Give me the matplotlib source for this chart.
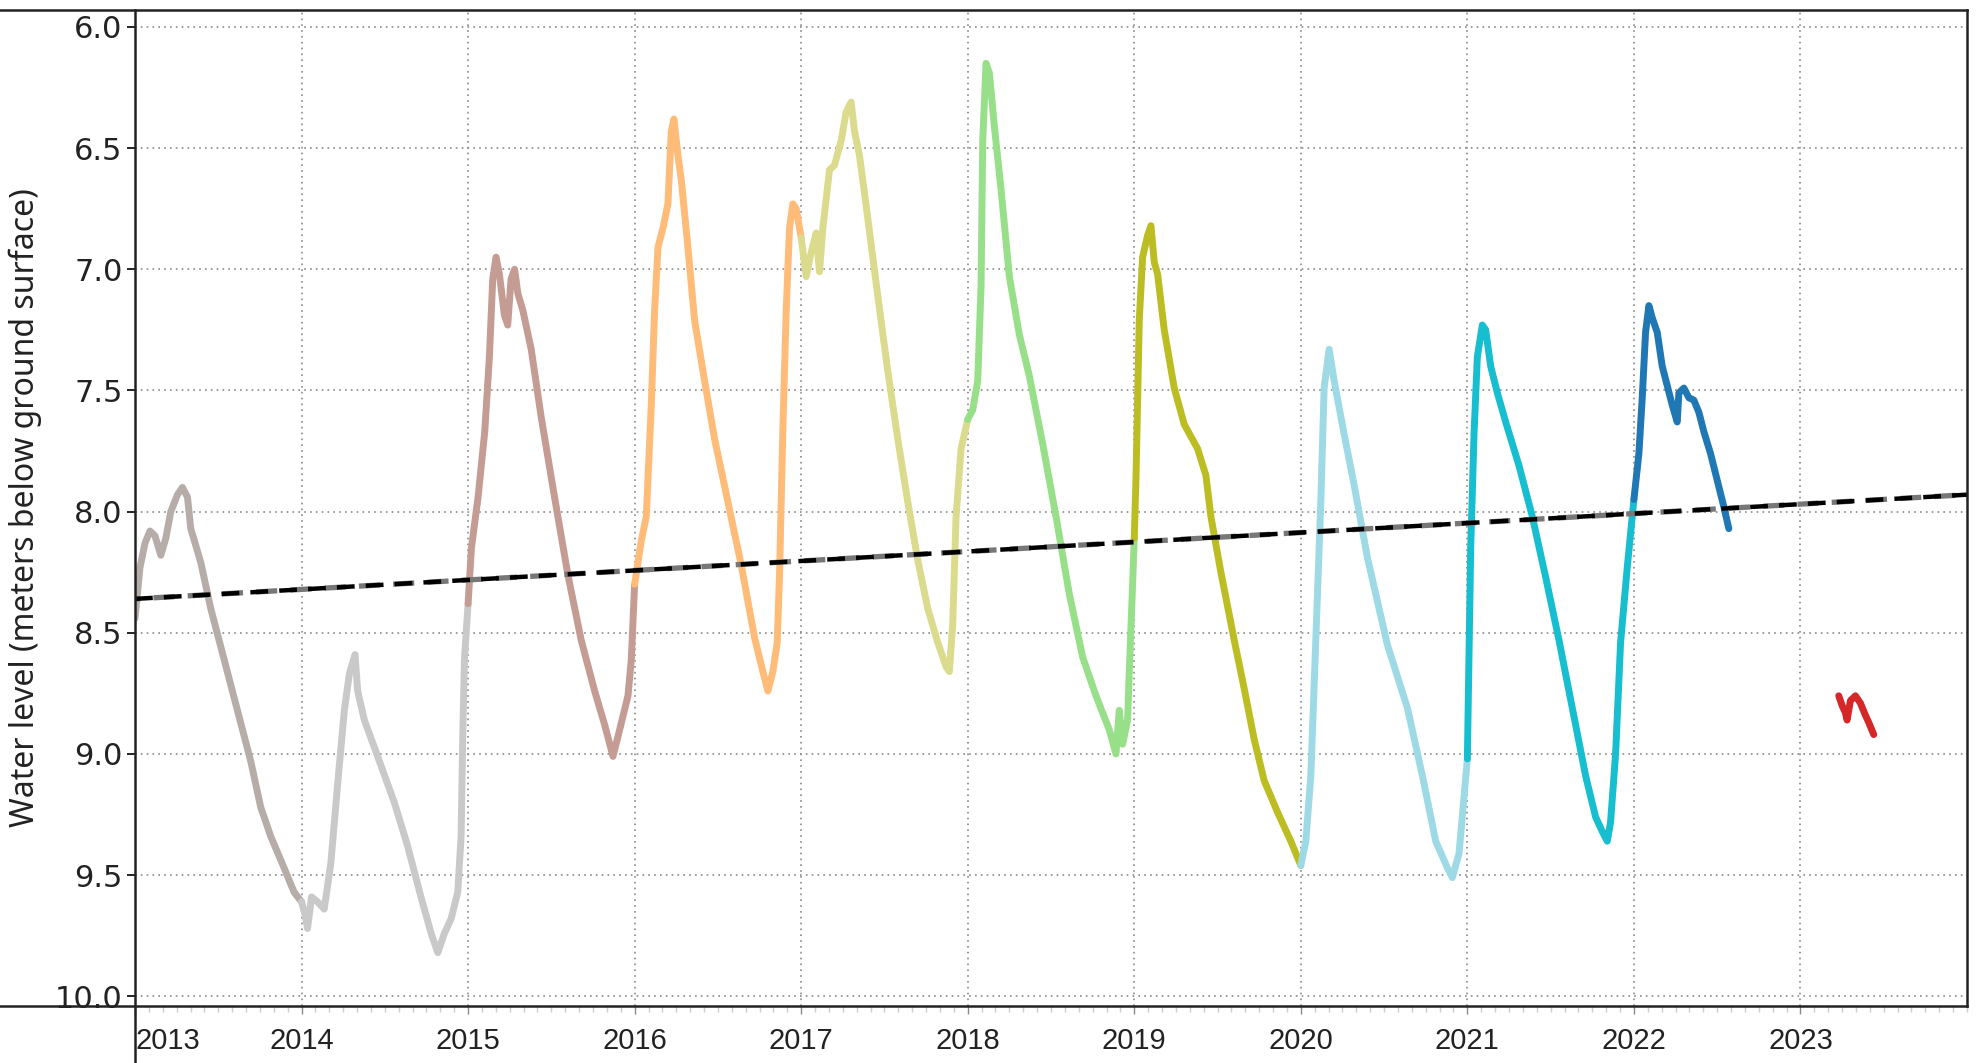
import matplotlib
matplotlib.use("Agg")
import matplotlib.pyplot as plt
from matplotlib.lines import Line2D
from matplotlib.ticker import MultipleLocator, FixedLocator

# water level readings, decimal year vs meters below ground surface
t2013 = [2013.0, 2013.03, 2013.06, 2013.09, 2013.12, 2013.155, 2013.185, 2013.215, 2013.255, 2013.285,
         2013.315, 2013.335, 2013.395, 2013.455, 2013.535, 2013.615, 2013.695, 2013.755, 2013.815,
         2013.895, 2013.955, 2014.0]
v2013 = [8.44, 8.23, 8.13, 8.08, 8.10, 8.18, 8.11, 8.00, 7.93, 7.90,
         7.94, 8.07, 8.21, 8.40, 8.61, 8.82, 9.03, 9.22, 9.34,
         9.47, 9.57, 9.61]

t2014 = [2014.0, 2014.02, 2014.036, 2014.06, 2014.096, 2014.136, 2014.176, 2014.216, 2014.257, 2014.287,
         2014.321, 2014.337, 2014.377, 2014.457, 2014.557, 2014.637, 2014.717, 2014.778, 2014.818,
         2014.858, 2014.898, 2014.938, 2014.958, 2014.968, 2014.978, 2015.0]
v2014 = [9.61, 9.66, 9.72, 9.59, 9.61, 9.64, 9.45, 9.13, 8.82, 8.67,
         8.59, 8.74, 8.86, 9.01, 9.20, 9.38, 9.59, 9.74, 9.82,
         9.74, 9.68, 9.57, 9.34, 8.92, 8.61, 8.38]

t2015 = [2015.0, 2015.02, 2015.06, 2015.10, 2015.128, 2015.148, 2015.168, 2015.188, 2015.218, 2015.238,
         2015.258, 2015.279, 2015.299, 2015.329, 2015.379, 2015.439, 2015.519, 2015.599, 2015.679,
         2015.760, 2015.820, 2015.870, 2015.910, 2015.960, 2015.980, 2016.0]
v2015 = [8.38, 8.15, 7.94, 7.67, 7.36, 7.04, 6.95, 7.02, 7.19, 7.23,
         7.04, 7.00, 7.10, 7.17, 7.33, 7.61, 7.94, 8.26, 8.53,
         8.74, 8.88, 9.01, 8.90, 8.76, 8.61, 8.30]

t2016 = [2016.0, 2016.04, 2016.07, 2016.10, 2016.12, 2016.14, 2016.17, 2016.20, 2016.22, 2016.236,
         2016.26, 2016.28, 2016.32, 2016.36, 2016.42, 2016.48, 2016.56, 2016.64, 2016.72, 2016.77,
         2016.80, 2016.83, 2016.856, 2016.87, 2016.89, 2016.91, 2016.93, 2016.95, 2016.97, 2017.0]
v2016 = [8.30, 8.12, 8.02, 7.56, 7.17, 6.91, 6.83, 6.73, 6.43, 6.38,
         6.53, 6.63, 6.91, 7.21, 7.46, 7.70, 7.96, 8.22, 8.52, 8.66,
         8.74, 8.66, 8.54, 8.26, 7.66, 7.17, 6.83, 6.73, 6.75, 6.87]

t2017 = [2017.0, 2017.03, 2017.06, 2017.09, 2017.11, 2017.13, 2017.17, 2017.20, 2017.24, 2017.27,
         2017.30, 2017.32, 2017.35, 2017.40, 2017.46, 2017.52, 2017.58, 2017.64, 2017.70, 2017.76,
         2017.82, 2017.87, 2017.89, 2017.91, 2017.93, 2017.96, 2018.0]
v2017 = [6.87, 7.03, 6.93, 6.85, 7.01, 6.83, 6.59, 6.57, 6.47, 6.35,
         6.31, 6.43, 6.53, 6.79, 7.11, 7.42, 7.70, 7.96, 8.20, 8.40,
         8.54, 8.64, 8.66, 8.46, 8.02, 7.74, 7.62]

t2018 = [2018.0, 2018.03, 2018.06, 2018.08, 2018.09, 2018.11, 2018.13, 2018.16, 2018.20, 2018.25,
         2018.31, 2018.37, 2018.45, 2018.53, 2018.61, 2018.69, 2018.77, 2018.85, 2018.89, 2018.91,
         2018.93, 2018.96, 2018.97, 2018.99, 2019.0]
v2018 = [7.62, 7.58, 7.46, 7.07, 6.47, 6.15, 6.19, 6.41, 6.67, 7.03,
         7.27, 7.44, 7.72, 8.02, 8.34, 8.60, 8.76, 8.90, 9.00, 8.82,
         8.96, 8.86, 8.66, 8.30, 8.11]

t2019 = [2019.0, 2019.01, 2019.03, 2019.05, 2019.08, 2019.10, 2019.12, 2019.14, 2019.18, 2019.24,
         2019.30, 2019.38, 2019.43, 2019.46, 2019.52, 2019.60, 2019.66, 2019.72, 2019.78, 2019.86,
         2019.94, 2020.0]
v2019 = [8.11, 7.87, 7.21, 6.95, 6.86, 6.82, 6.97, 7.02, 7.25, 7.49,
         7.64, 7.74, 7.85, 8.02, 8.25, 8.53, 8.73, 8.94, 9.11, 9.24,
         9.36, 9.46]

t2020 = [2020.0, 2020.03, 2020.06, 2020.09, 2020.12, 2020.14, 2020.17, 2020.20, 2020.26, 2020.32,
         2020.40, 2020.52, 2020.64, 2020.73, 2020.81, 2020.88, 2020.91, 2020.95, 2021.0]
v2020 = [9.46, 9.36, 9.09, 8.53, 7.96, 7.49, 7.33, 7.46, 7.68, 7.89,
         8.19, 8.55, 8.81, 9.09, 9.36, 9.47, 9.51, 9.41, 9.02]

t2021 = [2021.0, 2021.02, 2021.04, 2021.06, 2021.09, 2021.11, 2021.14, 2021.18, 2021.23, 2021.31,
         2021.39, 2021.47, 2021.55, 2021.63, 2021.71, 2021.77, 2021.81, 2021.84, 2021.86, 2021.89,
         2021.92, 2021.96, 2022.0]
v2021 = [9.02, 8.15, 7.68, 7.36, 7.23, 7.25, 7.40, 7.51, 7.63, 7.81,
         8.02, 8.27, 8.53, 8.81, 9.09, 9.26, 9.32, 9.36, 9.28, 9.00,
         8.54, 8.23, 7.95]

t2022 = [2022.0, 2022.03, 2022.05, 2022.07, 2022.09, 2022.11, 2022.14, 2022.17, 2022.20, 2022.23,
         2022.26, 2022.27, 2022.30, 2022.33, 2022.36, 2022.39, 2022.42, 2022.46, 2022.50, 2022.54,
         2022.57]
v2022 = [7.95, 7.76, 7.53, 7.26, 7.15, 7.20, 7.26, 7.40, 7.48, 7.56,
         7.63, 7.51, 7.49, 7.53, 7.54, 7.59, 7.67, 7.76, 7.87, 7.98,
         8.07]

t2023 = [2023.23, 2023.25, 2023.27, 2023.28, 2023.30, 2023.33, 2023.36, 2023.39, 2023.41, 2023.44]
v2023 = [8.76, 8.80, 8.83, 8.86, 8.78, 8.76, 8.79, 8.84, 8.87, 8.92]

trend_t = [2013.0, 2024.0]
trend_v = [8.36, 7.93]

years = list(range(2013, 2024))
yticks = [6.0, 6.5, 7.0, 7.5, 8.0, 8.5, 9.0, 9.5, 10.0]

series = [
    (t2013, v2013, '#b6ada9'),
    (t2014, v2014, '#c9c9c9'),
    (t2015, v2015, '#c49c94'),
    (t2016, v2016, '#ffbb78'),
    (t2017, v2017, '#dbdb8d'),
    (t2018, v2018, '#98df8a'),
    (t2019, v2019, '#bcbd22'),
    (t2020, v2020, '#9edae5'),
    (t2021, v2021, '#17becf'),
    (t2022, v2022, '#1f77b4'),
    (t2023, v2023, '#d62728'),
]

fig = plt.figure(figsize=(19.77, 10.63), dpi=100)
L, B, R, T = 135 / 1977, 1 - 1006 / 1063, 1967 / 1977, 1 - 10 / 1063
ax = fig.add_axes([L, B, R - L, T - B])

for t, v, c in series:
    ax.plot(t, v, color=c, lw=5, solid_capstyle='round', solid_joinstyle='round', zorder=3)

# trend line, drawn twice like the original (grey under black dashes)
ax.plot(trend_t, trend_v, color='#777777', lw=3.8, ls=(3, (4, 2.5)), zorder=4)
ax.plot(trend_t, trend_v, color='black', lw=3.2, ls=(0, (4, 2.5)), zorder=5)

ax.set_xlim(2013.0, 2024.0)
ax.set_ylim(10.04, 5.93)

ax.set_yticks(yticks)
ax.set_yticklabels(['%.1f' % y for y in yticks])
ax.xaxis.set_major_locator(FixedLocator(years))
ax.set_xticklabels([str(y) for y in years])
ax.xaxis.set_minor_locator(MultipleLocator(1 / 12))

ax.grid(True, which='major', color='#8a8a8a', lw=1.2, ls=(0, (1, 2.5)))
ax.tick_params(axis='y', direction='out', length=6, width=1.2, pad=3,
               labelsize=22, labelcolor='#222222', labelfontfamily='DejaVu Sans')
ax.tick_params(axis='x', which='major', direction='out', length=6, width=1,
               color='#888888', pad=9, labelsize=21, labelcolor='#222222',
               labelfontfamily='Liberation Sans')
ax.tick_params(axis='x', which='minor', direction='out', length=4, width=1,
               color='#cccccc')
ax.get_xticklabels()[0].set_horizontalalignment('left')

for s in ax.spines.values():
    s.set_visible(False)

ax.set_ylabel('Water level (meters below ground surface)', fontsize=23,
              family='Noto Sans', color='#222222')
ax.yaxis.set_label_coords(-0.051, 0.5)

# frame lines that run past the plot area
fig.add_artist(Line2D([0, R], [T, T], transform=fig.transFigure, color='#222222', lw=1.8))
fig.add_artist(Line2D([0, R], [B, B], transform=fig.transFigure, color='#222222', lw=1.8))
fig.add_artist(Line2D([L, L], [0, T], transform=fig.transFigure, color='#222222', lw=1.8))
fig.add_artist(Line2D([R, R], [B, T], transform=fig.transFigure, color='#222222', lw=1.8))

fig.savefig('out.png', dpi=100, facecolor='white')
